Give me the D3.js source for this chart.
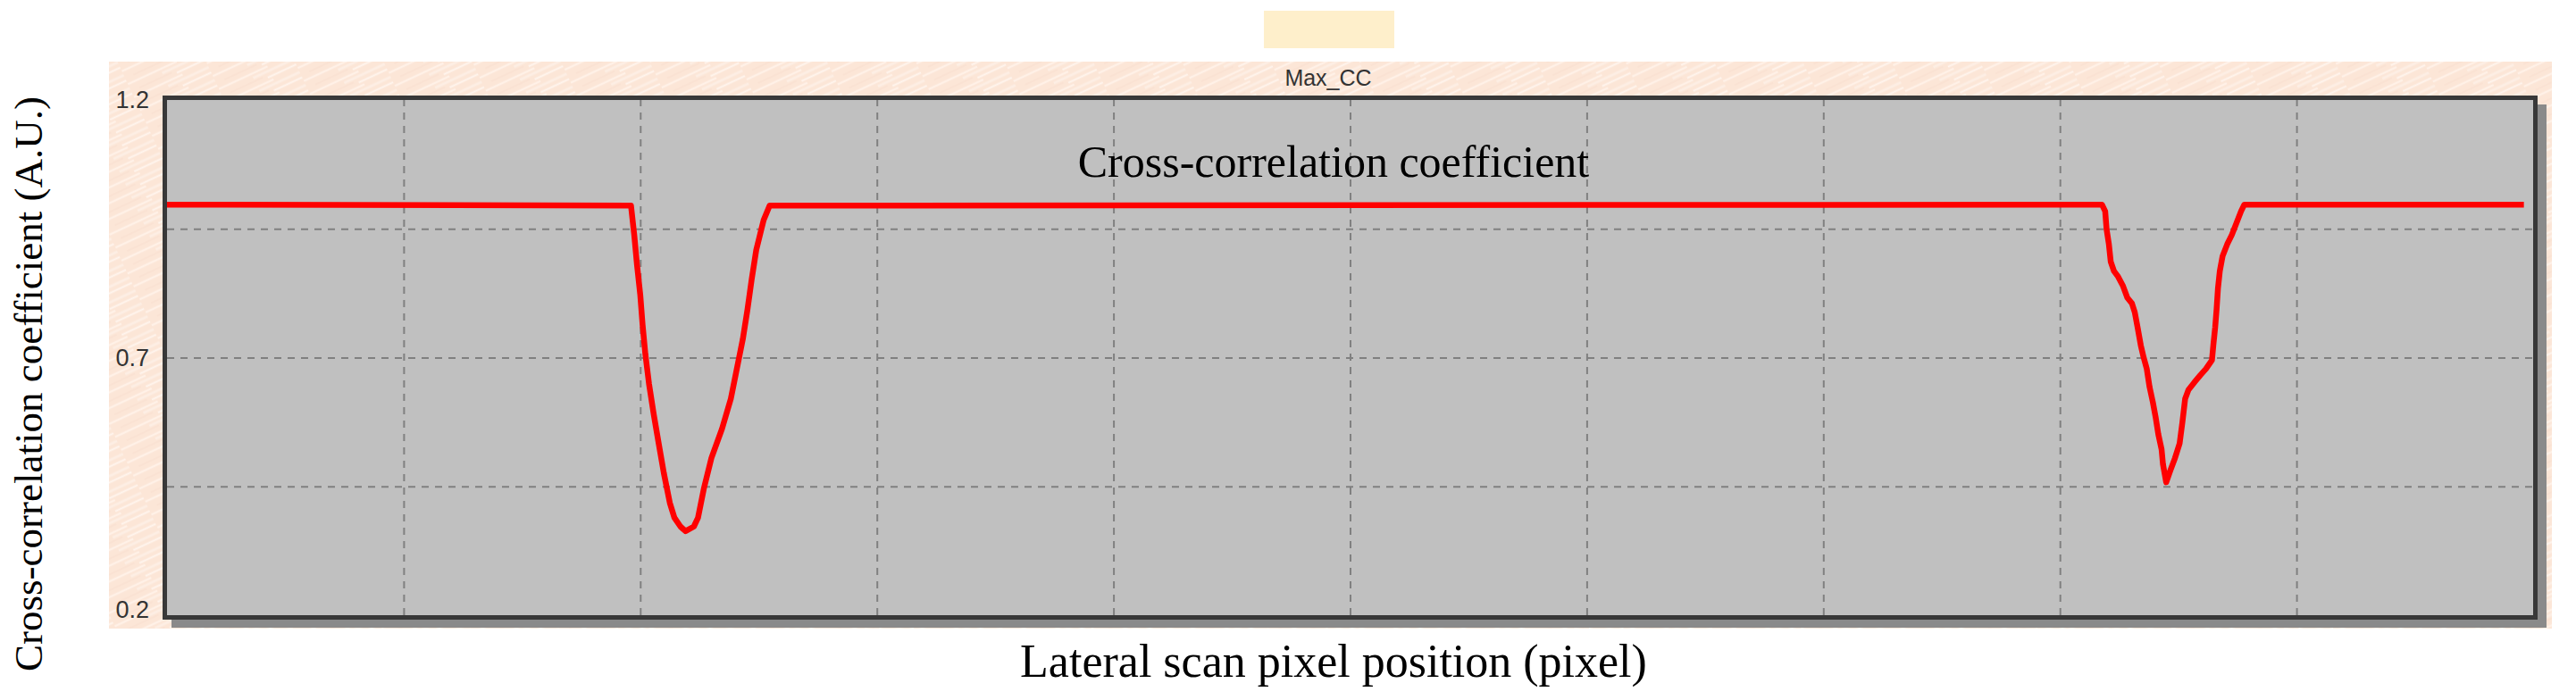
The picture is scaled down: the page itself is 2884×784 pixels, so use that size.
<!DOCTYPE html>
<html>
<head>
<meta charset="utf-8">
<script src="https://cdn.jsdelivr.net/npm/d3@7/dist/d3.min.js"></script>
<style>
body{margin:0;background:#fff;}
svg{display:block;}
</style>
</head>
<body>
<svg></svg>
<script>
// lateral scan position (pixel) and max cross-correlation value
var xPos = [0, 100.4, 101.1, 101.7, 102.4, 102.9, 103.5, 104.3, 105.3, 106.4, 107.5, 108.8, 109.8, 111.1, 112.2,
    114.0, 114.9, 116.2, 117.8, 120.1, 122.0, 123.3, 124.6, 125.6, 126.5, 127.5, 129.1, 130.4,
    418.7, 419.4, 419.7, 420.2, 420.6, 421.3, 422.2, 423.2, 424.2, 425.2, 425.8, 426.4, 427.1, 427.7,
    428.4, 429.0, 429.7, 430.3, 430.9, 431.6, 431.9, 432.6, 433.5, 434.5, 435.5, 436.1, 436.7, 437.4,
    438.7, 440.0, 441.2, 442.5, 442.8, 443.2, 443.5, 443.8, 444.2, 444.8, 445.8, 446.8, 447.8, 448.8, 449.5, 510];
var maxCC = [0.997, 0.995, 0.938, 0.880, 0.822, 0.764, 0.707, 0.649, 0.591, 0.533, 0.476, 0.418, 0.389, 0.372, 0.363,
    0.372, 0.389, 0.447, 0.505, 0.562, 0.620, 0.678, 0.736, 0.793, 0.851, 0.909, 0.967, 0.995,
    0.997, 0.984, 0.949, 0.920, 0.886, 0.868, 0.857, 0.840, 0.816, 0.805, 0.788, 0.759, 0.724, 0.701,
    0.678, 0.643, 0.614, 0.585, 0.551, 0.522, 0.493, 0.458, 0.481, 0.505, 0.533, 0.574, 0.620, 0.637,
    0.652, 0.666, 0.678, 0.695, 0.724, 0.759, 0.793, 0.834, 0.868, 0.897, 0.920, 0.938, 0.961, 0.984, 0.997, 0.997];

var xDomain = [0, 512];
var yDomain = [0.2, 1.2];
var yTickLabels = [0.2, 0.7, 1.2];
var yGridValues = [0.45, 0.7, 0.95];
var xGridValues = [51.2, 102.4, 153.6, 204.8, 256, 307.2, 358.4, 409.6, 460.8];

var seriesName = "Max_CC";
var innerTitle = "Cross-correlation coefficient";
var xTitle = "Lateral scan pixel position (pixel)";
var yTitle = "Cross-correlation coefficient (A.U.)";

const W = 2884, H = 784;
const plot = {left: 187, right: 2836, top: 112, bottom: 689};
const serif = "'Liberation Serif', 'Times New Roman', serif";
const sans = "'Liberation Sans', Arial, sans-serif";

window.onload = function() {

    var svg = d3.select("svg")
        .attr("width", W)
        .attr("height", H);

    var x = d3.scaleLinear().domain(xDomain).range([plot.left, plot.right]);
    var y = d3.scaleLinear().domain(yDomain).range([plot.bottom, plot.top]);

    // soft wood-like peach texture
    var defs = svg.append("defs");
    var pat = defs.append("pattern")
        .attr("id", "wood")
        .attr("patternUnits", "userSpaceOnUse")
        .attr("width", 90).attr("height", 16)
        .attr("patternTransform", "rotate(-25)");
    pat.append("rect").attr("width", 90).attr("height", 16).attr("fill", "#fce6d7");
    pat.append("line").attr("x1", 0).attr("x2", 60).attr("y1", 2).attr("y2", 2)
        .attr("stroke", "#fff1e7").attr("stroke-width", 2.5);
    pat.append("line").attr("x1", 40).attr("x2", 90).attr("y1", 7).attr("y2", 7)
        .attr("stroke", "#fdeee4").attr("stroke-width", 3);
    pat.append("line").attr("x1", 10).attr("x2", 50).attr("y1", 11).attr("y2", 11)
        .attr("stroke", "#f9dfcf").attr("stroke-width", 1.2);
    pat.append("line").attr("x1", 55).attr("x2", 90).attr("y1", 13.5).attr("y2", 13.5)
        .attr("stroke", "#fff5ee").attr("stroke-width", 2);

    defs.append("clipPath").attr("id", "clip")
        .append("rect")
        .attr("x", plot.left).attr("y", plot.top)
        .attr("width", plot.right - plot.left).attr("height", plot.bottom - plot.top);

    // empty legend box
    svg.append("rect")
        .attr("x", 1415).attr("y", 12).attr("width", 146).attr("height", 42)
        .attr("fill", "#feefcb");

    // textured panel
    svg.append("rect")
        .attr("x", 122).attr("y", 69).attr("width", 2735).attr("height", 635)
        .attr("fill", "url(#wood)");

    svg.append("text")
        .attr("x", 1487).attr("y", 96)
        .attr("text-anchor", "middle")
        .attr("font-family", sans).attr("font-size", 25)
        .attr("fill", "#333")
        .text(seriesName);

    // shadow + plot background
    svg.append("rect")
        .attr("x", plot.left + 5).attr("y", plot.top + 5)
        .attr("width", plot.right - plot.left + 10).attr("height", plot.bottom - plot.top + 9)
        .attr("fill", "#8a8a8a");
    svg.append("rect")
        .attr("x", plot.left).attr("y", plot.top)
        .attr("width", plot.right - plot.left).attr("height", plot.bottom - plot.top)
        .attr("fill", "#c0c0c0");

    // grid
    var gy = svg.append("g")
        .attr("transform", "translate(" + plot.left + ",0)")
        .call(d3.axisLeft(y).tickValues(yGridValues).tickSize(-(plot.right - plot.left)).tickFormat(""));
    var gx = svg.append("g")
        .attr("transform", "translate(0," + plot.bottom + ")")
        .call(d3.axisBottom(x).tickValues(xGridValues).tickSize(-(plot.bottom - plot.top)).tickFormat(""));
    [gy, gx].forEach(function(g) {
        g.select(".domain").remove();
        g.selectAll("line")
            .attr("stroke", "#808080")
            .attr("stroke-width", 2)
            .attr("stroke-dasharray", "8,7");
    });

    // y tick labels
    var ya = svg.append("g")
        .attr("transform", "translate(" + plot.left + ",0)")
        .call(d3.axisLeft(y).tickValues(yTickLabels).tickSize(0).tickPadding(20).tickFormat(d3.format(".1f")));
    ya.select(".domain").remove();
    ya.selectAll("text")
        .attr("font-family", sans)
        .attr("font-size", 27)
        .attr("fill", "#333")
        .attr("y", function(d) { return Math.min(Math.max(y(d), 108), 683) - y(d); });

    // data line
    var line = d3.line()
        .x(function(d, i) { return x(xPos[i]); })
        .y(function(d) { return y(d); });

    svg.append("path")
        .datum(maxCC)
        .attr("clip-path", "url(#clip)")
        .attr("d", line)
        .attr("fill", "none")
        .attr("stroke", "#ff0000")
        .attr("stroke-width", 6.5)
        .attr("stroke-linejoin", "round");

    // frame
    svg.append("rect")
        .attr("x", plot.left - 2.5).attr("y", plot.top - 2.5)
        .attr("width", plot.right - plot.left + 5).attr("height", plot.bottom - plot.top + 5)
        .attr("fill", "none")
        .attr("stroke", "#383838")
        .attr("stroke-width", 5);

    svg.append("text")
        .attr("x", 1493).attr("y", 198)
        .attr("text-anchor", "middle")
        .attr("font-family", serif).attr("font-size", 50)
        .attr("fill", "#000")
        .text(innerTitle);

    svg.append("text")
        .attr("x", 1493).attr("y", 758)
        .attr("text-anchor", "middle")
        .attr("font-family", serif).attr("font-size", 52)
        .attr("fill", "#000")
        .text(xTitle);

    svg.append("text")
        .attr("transform", "translate(47,430) rotate(-90)")
        .attr("text-anchor", "middle")
        .attr("font-family", serif).attr("font-size", 45)
        .attr("fill", "#000")
        .text(yTitle);
}
</script>
</body>
</html>
